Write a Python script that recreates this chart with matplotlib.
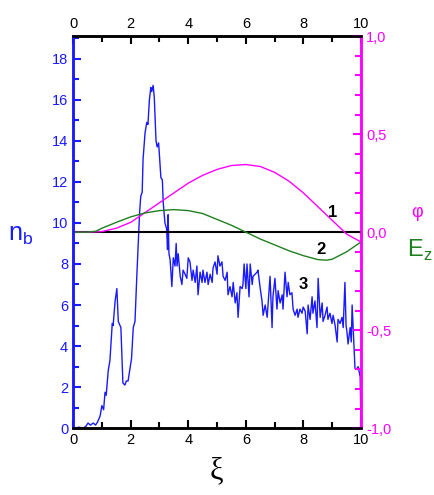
import numpy as np
import matplotlib
matplotlib.use("Agg")
import matplotlib.pyplot as plt
from matplotlib.ticker import MultipleLocator, FuncFormatter

plt.rcParams['font.family'] = ['Liberation Sans', 'DejaVu Sans']

# beam density n_b (curve 3)
xi_n = [0.0, 0.1, 0.2, 0.35, 0.45, 0.52, 0.6, 0.7, 0.78, 0.85, 0.94, 1.0, 1.06, 1.11, 1.15,
        1.22, 1.28, 1.36, 1.39, 1.46, 1.52, 1.57, 1.66, 1.73, 1.8, 1.85, 1.91, 2.03, 2.09,
        2.15, 2.21, 2.26, 2.31, 2.35, 2.4, 2.43, 2.5, 2.56, 2.6, 2.65, 2.7, 2.73, 2.78, 2.82,
        2.88, 2.92, 2.97, 3.05, 3.1, 3.13, 3.19, 3.25, 3.28, 3.3, 3.33, 3.37, 3.43, 3.48,
        3.54, 3.58, 3.61, 3.65, 3.72, 3.78, 3.82, 3.89, 3.95, 4.0, 4.06, 4.13, 4.17, 4.24,
        4.3, 4.34, 4.41, 4.48, 4.51, 4.58, 4.65, 4.69, 4.76, 4.83, 4.86, 4.93, 5.0, 5.03,
        5.1, 5.17, 5.21, 5.28, 5.35, 5.38, 5.45, 5.52, 5.56, 5.63, 5.69, 5.73, 5.8, 5.87,
        5.9, 5.94, 6.0, 6.04, 6.11, 6.15, 6.22, 6.25, 6.32, 6.39, 6.42, 6.49, 6.56, 6.6,
        6.67, 6.74, 6.77, 6.84, 6.91, 6.94, 7.01, 7.08, 7.12, 7.19, 7.26, 7.29, 7.36, 7.43,
        7.47, 7.53, 7.6, 7.64, 7.71, 7.78, 7.81, 7.88, 7.95, 7.99, 8.06, 8.13, 8.16, 8.23,
        8.3, 8.33, 8.4, 8.47, 8.51, 8.58, 8.65, 8.68, 8.75, 8.82, 8.85, 8.92, 8.99, 9.03,
        9.1, 9.17, 9.2, 9.27, 9.34, 9.38, 9.44, 9.48, 9.51, 9.55, 9.62, 9.66, 9.69, 9.74,
        9.79, 9.86, 9.9, 9.97, 10.0]
n_b = [0.0, 0.0, 0.05, 0.0, 0.1, 0.25, 0.15, 0.25, 0.15, 0.3, 0.6, 1.1, 0.9, 1.75, 1.6,
       2.8, 3.3, 5.1, 5.0, 6.2, 6.8, 5.2, 4.9, 2.2, 2.1, 2.3, 2.3, 3.4, 4.9,
       5.2, 7.3, 8.9, 10.5, 11.3, 11.5, 13.1, 14.4, 14.9, 14.8, 16.0, 16.6, 16.4, 16.7, 16.1,
       14.0, 13.7, 13.9, 12.2, 12.1, 11.0, 10.0, 9.7, 8.7, 10.4, 8.5, 8.2, 6.9, 8.3,
       7.9, 9.0, 7.9, 8.5, 7.4, 7.0, 7.7, 7.5, 7.3, 8.3, 8.1, 7.2, 7.7, 7.1,
       7.9, 6.5, 7.6, 7.1, 7.7, 7.1, 7.6, 7.0, 7.5, 7.1, 7.8, 8.1, 7.5, 8.4,
       7.9, 8.1, 7.4, 7.2, 7.6, 6.5, 6.9, 6.4, 7.1, 6.1, 6.6, 5.4, 6.9, 6.8,
       7.0, 8.0, 6.8, 8.0, 6.4, 8.0, 7.0, 7.4, 7.5, 7.6, 7.7, 6.9, 6.2, 5.5,
       6.0, 5.4, 6.0, 7.4, 4.9, 6.4, 7.3, 5.8, 6.7, 6.1, 6.5, 5.8, 7.6, 6.4,
       7.1, 6.5, 6.6, 5.8, 5.5, 5.8, 5.4, 5.8, 5.6, 5.9, 5.7, 4.6, 6.0, 5.3,
       6.4, 5.6, 6.2, 4.9, 7.3, 5.4, 6.1, 5.2, 5.5, 5.9, 5.3, 5.6, 5.1, 5.5,
       5.0, 4.2, 5.3, 5.1, 5.4, 4.9, 7.1, 5.0, 4.7, 4.1, 4.9, 4.2, 6.0, 4.5,
       2.9, 2.9, 3.0, 2.5, 0.0]

# potential phi (curve 1)
xi_phi = [0.0, 0.5, 1.0, 1.5, 2.0, 2.5, 3.0, 3.5, 4.0, 4.5, 5.0, 5.5, 6.0, 6.5, 7.0,
          7.5, 8.0, 8.5, 9.0, 9.5, 10.0]
phi = [0.0, 0.0, 0.003, 0.02, 0.05, 0.1, 0.15, 0.2, 0.25, 0.29, 0.32, 0.34, 0.345, 0.335,
       0.305, 0.26, 0.2, 0.13, 0.06, -0.01, -0.05]

# longitudinal field E_z (curve 2)
xi_ez = [0.0, 0.5, 0.8, 1.0, 1.5, 2.0, 2.5, 3.0, 3.5, 4.0, 4.5, 5.0, 5.5, 6.0, 6.5, 7.0,
         7.5, 8.0, 8.5, 8.8, 9.0, 9.5, 10.0]
e_z = [0.0, 0.0, 0.005, 0.02, 0.05, 0.078, 0.098, 0.11, 0.115, 0.11, 0.095, 0.065, 0.035,
       0.0, -0.035, -0.065, -0.095, -0.12, -0.14, -0.143, -0.138, -0.1, -0.05]

blue = "#1a1aff"
mag = "#ff00ff"
green = "#1f7f1f"

fig = plt.figure(figsize=(4.35, 4.95), dpi=100)
ax = fig.add_axes([0.168, 0.135, 0.662, 0.792])
ax2 = ax.twinx()

ax.plot(xi_n, n_b, color=blue, linewidth=1.0)
ax.set_xlim(0, 10)
ax.set_ylim(0, 19.1)

ax2.axhline(0, color="black", linewidth=1.5)
ax2.plot(xi_phi, phi, color=mag, linewidth=1.0)
ax2.plot(xi_ez, e_z, color=green, linewidth=1.0)
ax2.set_ylim(-1.0, 1.0)

# ticks
ax.xaxis.set_major_locator(MultipleLocator(2))
ax.xaxis.set_minor_locator(MultipleLocator(1))
ax.yaxis.set_major_locator(MultipleLocator(2))
ax.yaxis.set_minor_locator(MultipleLocator(1))
ax2.yaxis.set_major_locator(MultipleLocator(0.5))
ax2.yaxis.set_minor_locator(MultipleLocator(0.1))
ax2.yaxis.set_major_formatter(FuncFormatter(lambda v, p: ("%.1f" % v).replace(".", ",")))

ax.tick_params(axis="x", which="both", direction="in", top=True, labeltop=True,
               colors="black", labelsize=10.5, width=1.5)
ax.tick_params(axis="x", which="major", length=6)
ax.tick_params(axis="x", which="minor", length=4)
ax.tick_params(axis="y", which="both", direction="in", colors=blue, labelsize=10.5, width=1.5)
ax.tick_params(axis="y", which="major", length=6)
ax.tick_params(axis="y", which="minor", length=4)
ax2.tick_params(axis="y", which="both", direction="in", colors=mag, labelsize=10.5, width=1.5)
ax2.tick_params(axis="y", which="major", length=6)
ax2.tick_params(axis="y", which="minor", length=4)

for a in (ax, ax2):
    a.spines["left"].set_color(blue)
    a.spines["right"].set_color(mag)
    a.spines["top"].set_color("black")
    a.spines["bottom"].set_color("black")
    for s in a.spines.values():
        s.set_linewidth(1.8)

# curve numbers
ax2.text(9.0, 0.1, "1", fontsize=12, fontweight="bold", ha="center", va="center")
ax2.text(8.6, -0.09, "2", fontsize=12, fontweight="bold", ha="center", va="center")
ax.text(8.0, 7.0, "3", fontsize=12, fontweight="bold", ha="center", va="center")

# axis labels
fig.text(0.048, 0.525, r"n$_\mathregular{b}$", color=blue, fontsize=18, ha="center", va="center")
fig.text(0.958, 0.57, "φ", color=mag, fontsize=13, ha="center", va="center")
fig.text(0.965, 0.495, r"E$_\mathregular{z}$", color=green, fontsize=17, ha="center", va="center")
fig.text(0.497, 0.05, "ξ", fontsize=22, family=["Liberation Serif", "DejaVu Serif"],
         ha="center", va="center")

fig.savefig("out.png", dpi=100)
